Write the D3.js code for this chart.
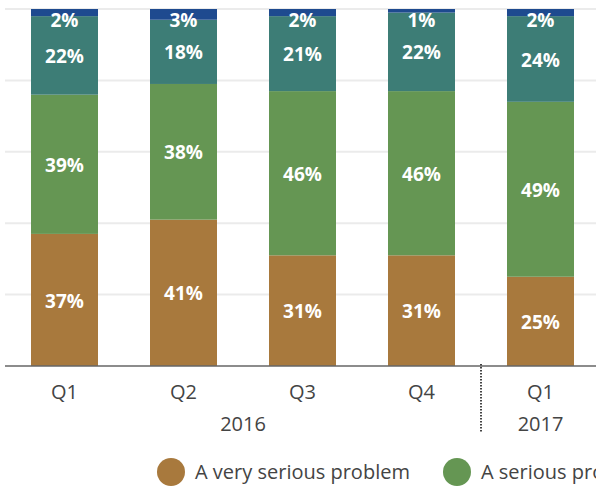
<!DOCTYPE html>
<html>
<head>
<meta charset="utf-8">
<script src="https://cdn.jsdelivr.net/npm/d3@7"></script>
<style>
  body { margin: 0; background: #fff; }
  svg { display: block; font-family: "Open Sans", sans-serif; }
</style>
</head>
<body>
<div id="chart"></div>
<script>
// data
const quarters = ["Q1", "Q2", "Q3", "Q4", "Q1 "];
const years = [{ label: "2016", from: 0, to: 3 }, { label: "2017", from: 4, to: 4 }];
const seriesNames = ["A very serious problem", "A serious problem", "Not a very serious problem", "Not a problem at all"];
const verySerious = [37, 41, 31, 31, 25];
const serious = [39, 38, 46, 46, 49];
const notVery = [22, 18, 21, 22, 24];
const notAtAll = [2, 3, 2, 1, 2];
const colors = ["#a8793d", "#659653", "#3d7d76", "#1e4a8f"];
const yTicks = [0, 20, 40, 60, 80, 100];

const width = 596, height = 486;
const svg = d3.select("#chart").append("svg")
  .attr("width", width)
  .attr("height", height);

const x = d3.scaleBand()
  .domain(quarters)
  .range([5, 600])
  .paddingInner(0.437)
  .paddingOuter(0.2185);

const y = d3.scaleLinear().domain([0, 100]).range([366, 9]);

// grid lines
svg.selectAll("line.grid")
  .data(yTicks.slice(1))
  .enter()
  .append("line")
  .attr("x1", 5)
  .attr("x2", width)
  .attr("y1", d => y(d))
  .attr("y2", d => y(d))
  .attr("stroke", "#ebebeb")
  .attr("stroke-width", 2);

const rows = quarters.map((q, i) => ({
  q, v0: verySerious[i], v1: serious[i], v2: notVery[i], v3: notAtAll[i]
}));
const stack = d3.stack().keys(["v0", "v1", "v2", "v3"]);
const layers = stack(rows);

const g = svg.selectAll("g.layer")
  .data(layers)
  .enter()
  .append("g")
  .attr("fill", (d, i) => colors[i]);

g.selectAll("rect")
  .data(d => d)
  .enter()
  .append("rect")
  .attr("x", d => x(d.data.q))
  .attr("width", x.bandwidth())
  .attr("y", d => y(d[1]))
  .attr("height", d => y(d[0]) - y(d[1]));

// value labels
layers.forEach(layer => {
  svg.selectAll(null)
    .data(layer)
    .enter()
    .append("text")
    .attr("x", d => x(d.data.q) + x.bandwidth() / 2)
    .attr("y", d => Math.max((y(d[0]) + y(d[1])) / 2 + 1, y(100) + 11))
    .attr("dy", "0.35em")
    .attr("text-anchor", "middle")
    .attr("fill", "#fff")
    .attr("font-weight", "bold")
    .attr("font-size", 19)
    .text(d => (d[1] - d[0]) + "%");
});

// x axis
svg.append("line")
  .attr("x1", 5).attr("x2", width)
  .attr("y1", 366).attr("y2", 366)
  .attr("stroke", "#666")
  .attr("stroke-width", 1.5);

svg.selectAll("text.tick")
  .data(quarters)
  .enter()
  .append("text")
  .attr("x", d => x(d) + x.bandwidth() / 2)
  .attr("y", 392)
  .attr("dy", "0.35em")
  .attr("text-anchor", "middle")
  .attr("fill", "#444")
  .attr("font-size", 20)
  .text(d => d.trim());

svg.selectAll("text.year")
  .data(years)
  .enter()
  .append("text")
  .attr("x", d => (x(quarters[d.from]) + x(quarters[d.to])) / 2 + x.bandwidth() / 2)
  .attr("y", 424)
  .attr("dy", "0.35em")
  .attr("text-anchor", "middle")
  .attr("fill", "#444")
  .attr("font-size", 20)
  .text(d => d.label);

// year divider
const divX = (x(quarters[3]) + x.bandwidth() + x(quarters[4])) / 2;
svg.append("line")
  .attr("x1", divX).attr("x2", divX)
  .attr("y1", 364).attr("y2", 432)
  .attr("stroke", "#444")
  .attr("stroke-width", 2)
  .attr("stroke-dasharray", "1.5,1.5");

// legend
const legendX = [171, 457];
const lg = svg.selectAll("g.legend")
  .data(seriesNames.slice(0, 2))
  .enter()
  .append("g")
  .attr("transform", (d, i) => `translate(${legendX[i]},472)`);
lg.append("circle")
  .attr("r", 14)
  .attr("fill", (d, i) => colors[i]);
lg.append("text")
  .attr("x", 24)
  .attr("dy", "0.35em")
  .attr("fill", "#444")
  .attr("font-size", 20)
  .text(d => d);
</script>
</body>
</html>
